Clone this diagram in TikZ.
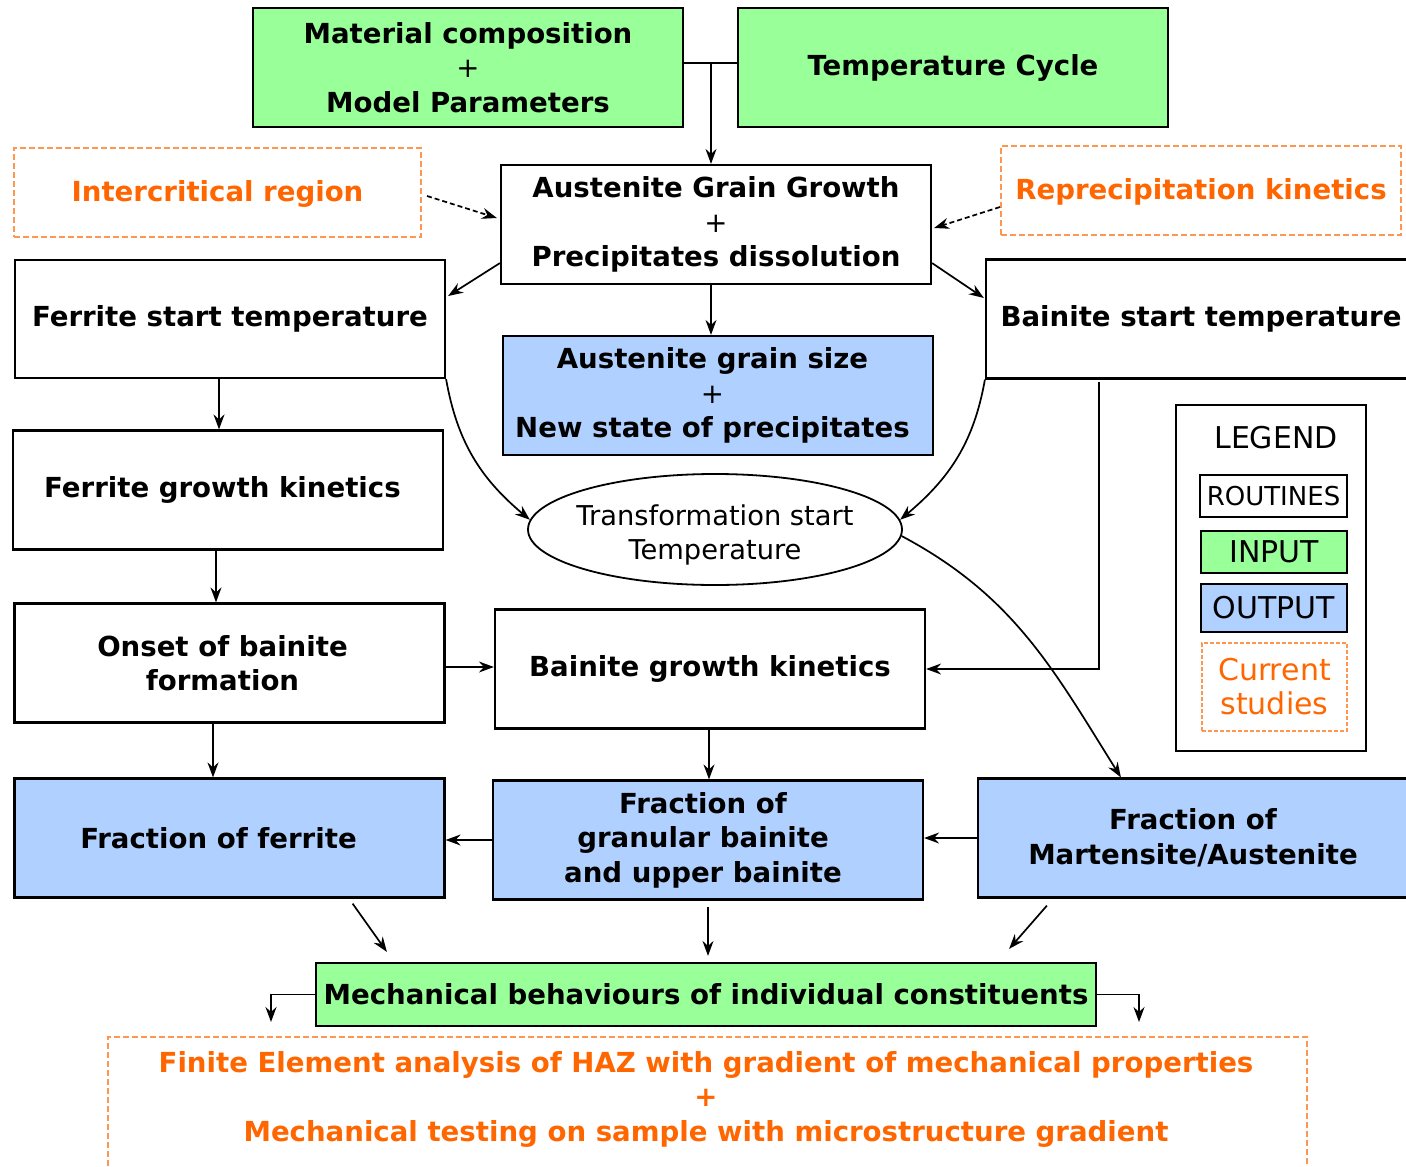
\documentclass[tikz,border=0pt]{standalone}
\usepackage{fontspec}
\setmainfont{DejaVu Sans}
\usetikzlibrary{shapes.geometric,arrows.meta}
\definecolor{inputgreen}{RGB}{153,255,153}
\definecolor{outputblue}{RGB}{176,208,255}
\definecolor{studyorange}{RGB}{255,102,0}
\definecolor{dashorange}{RGB}{255,150,80}
\newcommand{\boxfont}{\fontsize{27.6}{34.5}\selectfont\bfseries}
\newcommand{\legfont}{\fontsize{30}{34}\selectfont}

\begin{document}
\begin{tikzpicture}[x=1pt,y=-1pt,
  box/.style={draw, line width=2.2pt, minimum width=430pt, minimum height=119pt, align=center, inner sep=0pt, font=\boxfont},
  routine/.style={box, fill=white},
  inputbox/.style={box, fill=inputgreen},
  outputbox/.style={box, fill=outputblue},
  studies/.style={box, line width=2pt, draw=dashorange, dash pattern=on 6pt off 3pt, text=studyorange},
  key/.style={draw, line width=2pt, inner sep=0pt, minimum width=146pt, minimum height=42pt, font=\legfont},
  arr/.style={line width=1.7pt, -{Stealth[length=15pt,width=11pt,inset=5pt]}},
  darr/.style={arr, dash pattern=on 5pt off 3pt}]
  \useasboundingbox (0,0) rectangle (1406,1167);
  \clip (0,0) rectangle (1406,1167);

  % inputs
  \node[inputbox] (mat) at (468,67.5) {Material composition\\{\mdseries +}\\Model Parameters};
  \node[inputbox] (cycle) at (953,67.5) {Temperature Cycle};

  % austenitisation
  \node[studies, minimum width=407pt, minimum height=89pt] (inter) at (217.5,192.5) {\rule{0pt}{24pt}Intercritical region};
  \node[routine] (agg) at (716,224.5) {Austenite Grain Growth\\{\mdseries +}\\Precipitates dissolution};
  \node[studies, minimum width=400pt, minimum height=89pt] (reprec) at (1201,190.5) {\rule{0pt}{24pt}Reprecipitation kinetics};
  \node[routine, minimum height=118pt] (fstart) at (230,319) {Ferrite start temperature};
  \node[routine] (bstart) at (1201,319) {Bainite start temperature};
  \node[outputbox] (agsize) at (718,395.5) {\hspace*{-11pt}Austenite grain size\\\hspace*{-11pt}{\mdseries +}\\\hspace*{-11pt}New state of precipitates};
  \node[draw, ellipse, line width=1.8pt, minimum width=374pt, minimum height=111pt, inner sep=0pt, align=center,
    font=\fontsize{27.3}{34}\selectfont] (tst) at (715,529.5)
    {\rule{0pt}{32pt}\makebox[255pt]{Transformation start}\\\makebox[255pt]{Temperature}};

  % transformations
  \node[routine] (fgrowth) at (228,490) {\hspace*{-11pt}Ferrite growth kinetics};
  \node[routine] (onset) at (229.5,663) {\hspace*{-14pt}Onset of bainite\\\hspace*{-14pt}formation};
  \node[routine] (bgrowth) at (710,669) {Bainite growth kinetics};
  \node[outputbox] (ffer) at (229.5,838) {\hspace*{-22pt}Fraction of ferrite};
  \node[outputbox] (fgran) at (708,840) {\hspace*{-10pt}Fraction of\\\hspace*{-10pt}granular bainite\\\hspace*{-10pt}and upper bainite};
  \node[outputbox] (fma) at (1193,838) {Fraction of\\Martensite/Austenite};

  % mechanics
  \node[inputbox, minimum width=780pt, minimum height=63pt] (mech) at (706,994.5) {Mechanical behaviours of individual constituents};
  \node[studies, minimum width=1199pt, minimum height=170pt, anchor=north] (fem) at (707.5,1036) {};
  \node[align=center, text=studyorange, font=\boxfont] (femtext) at (706,1099)
    {Finite Element analysis of HAZ with gradient of mechanical properties\\+\\Mechanical testing on sample with microstructure gradient};

  % legend
  \node[draw, line width=1.5pt, minimum width=190pt, minimum height=346pt] (legend) at (1271,578) {};
  \node[font=\legfont] (legtitle) at (1276,438) {LEGEND};
  \node[key, minimum width=147pt, font=\fontsize{26}{30}\selectfont] (kroutine) at (1273.5,496) {ROUTINES};
  \node[key, fill=inputgreen] (kinput) at (1274,552) {INPUT};
  \node[key, fill=outputblue, minimum height=48pt] (koutput) at (1274,608) {OUTPUT};
  \node[key, line width=1.6pt, draw=dashorange, dash pattern=on 4pt off 2pt, text=studyorange, minimum width=145pt, minimum height=88pt,
    align=center] (kstudies) at (1274.5,687) {Current\\studies};

  % connectors
  \coordinate (join) at (711,63);
  \draw[line width=1.7pt] (mat.east |- join) -- (cycle.west |- join);
  \draw[arr] (join) -- (join |- agg.north);
  \draw[darr] ([xshift=5pt,yshift=-3.5pt]inter.east) -- ([xshift=-3pt,yshift=6.5pt]agg.west);
  \draw[darr] ([yshift=-16.5pt]reprec.west) -- ([xshift=2pt,yshift=-3.5pt]agg.east);
  \draw[arr] ([yshift=22pt]agg.south west) -- ([xshift=2pt,yshift=23pt]fstart.east);
  \draw[arr] ([yshift=22pt]agg.south east) -- ([xshift=-1pt,yshift=21pt]bstart.west);
  \draw[arr] (agg.south -| join) -- (agsize.north -| join);
  \draw[arr] (fstart.south east) to[out=-80,in=140] (tst.177);
  \draw[arr] (bstart.south west) to[out=-100,in=40] (tst.3);
  \draw[arr] (tst.-2) to[out=-28,in=122] ([xshift=144pt]fma.north west);
  \draw[arr] ([xshift=-11pt]fstart.south) -- ([xshift=-9pt]fgrowth.north);
  \draw[arr] ([xshift=-12pt]fgrowth.south) -- ([xshift=-13.5pt]onset.north);
  \draw[arr] ([yshift=-4pt]onset.east) -- ([yshift=2pt]bgrowth.west);
  \draw[arr] ([xshift=114pt,yshift=-2pt]bstart.south west) |- (bgrowth.east);
  \draw[arr] ([xshift=-16.5pt]onset.south) -- ([xshift=-16.5pt]ffer.north);
  \draw[arr] ([xshift=-1pt]bgrowth.south) -- ([xshift=1pt]fgran.north);
  \draw[arr] (fgran.west) -- (fgran.west -| ffer.east);
  \draw[arr] (fma.west) -- (fma.west -| fgran.east);
  \draw[arr] ([xshift=-93pt,yshift=-5pt]ffer.south east) -- ([xshift=72pt,yshift=10pt]mech.north west);
  \draw[arr] ([yshift=-6pt]fgran.south) -- ([yshift=6pt]fgran.south |- mech.north);
  \draw[arr] ([xshift=70pt,yshift=-7pt]fma.south west) -- ([xshift=-88pt,yshift=13pt]mech.north east);
  \draw[arr] (mech.west) -| ([xshift=164pt,yshift=14pt]fem.north west);
  \draw[arr] (mech.east) -| ([xshift=-169pt,yshift=14pt]fem.north east);
\end{tikzpicture}
\end{document}
